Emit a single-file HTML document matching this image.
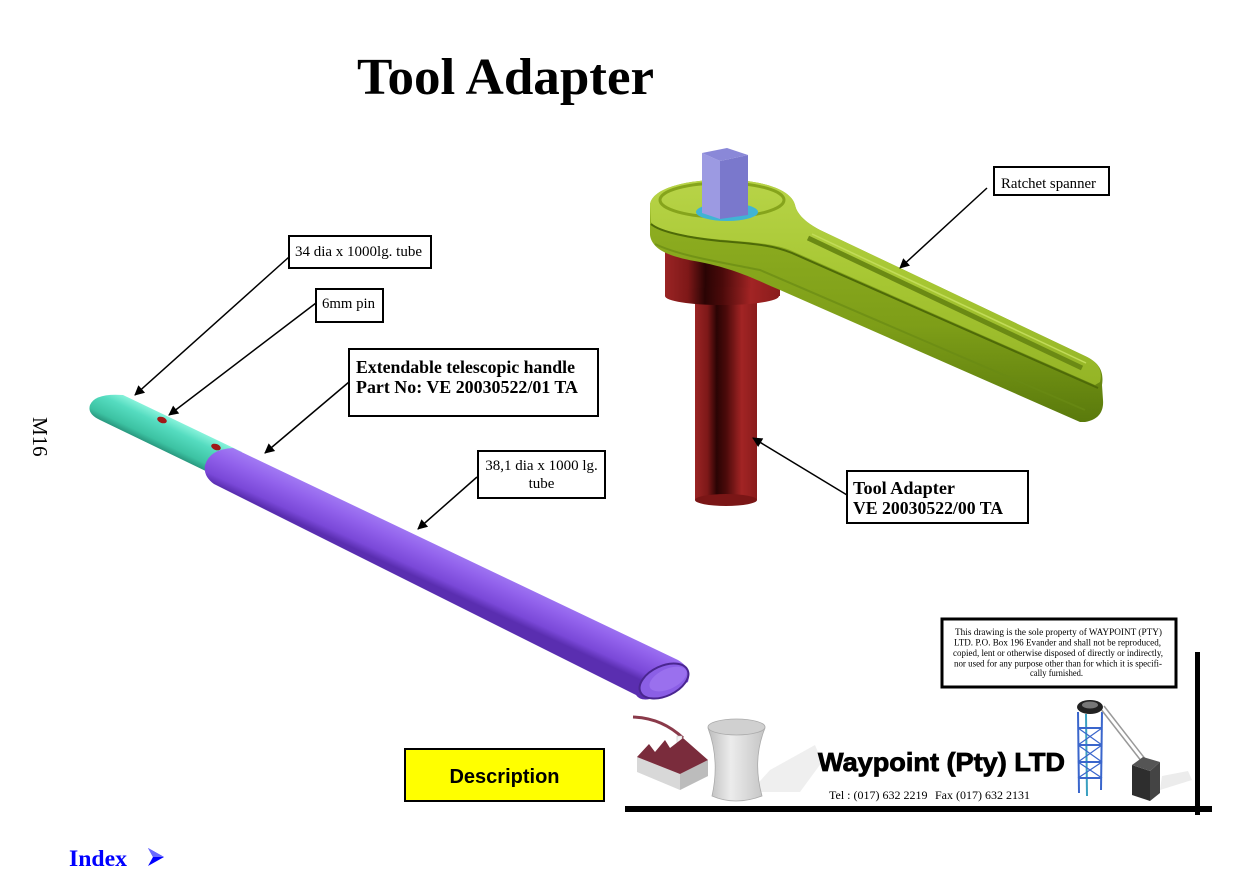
<!DOCTYPE html>
<html><head><meta charset="utf-8"><style>
html,body{margin:0;padding:0;background:#fff;}
svg{display:block;}
</style></head><body>
<svg width="1257" height="888" viewBox="0 0 1257 888" xmlns="http://www.w3.org/2000/svg">
<defs>
<marker id="ah" viewBox="0 0 10 10" refX="9" refY="5" markerWidth="12" markerHeight="10" markerUnits="userSpaceOnUse" orient="auto">
<path d="M0,0 L10,5 L0,10 Z" fill="#000"/>
</marker>
<linearGradient id="gTeal" gradientUnits="userSpaceOnUse" x1="123" y1="395" x2="109" y2="424">
<stop offset="0" stop-color="#86f2da"/><stop offset="0.3" stop-color="#55dcc0"/><stop offset="0.8" stop-color="#3cc2a2"/><stop offset="1" stop-color="#2a9a80"/>
</linearGradient>
<linearGradient id="gPurp" gradientUnits="userSpaceOnUse" x1="233" y1="448" x2="216" y2="485">
<stop offset="0" stop-color="#a27af4"/><stop offset="0.35" stop-color="#9262ec"/><stop offset="0.8" stop-color="#7a48d8"/><stop offset="1" stop-color="#5a2eb0"/>
</linearGradient>
<linearGradient id="gRed" x1="0" y1="0" x2="1" y2="0">
<stop offset="0" stop-color="#9a2424"/><stop offset="0.2" stop-color="#7e1818"/><stop offset="0.35" stop-color="#2a0404"/><stop offset="0.5" stop-color="#4a0a0a"/><stop offset="0.75" stop-color="#a22424"/><stop offset="1" stop-color="#8a1c1c"/>
</linearGradient>
<linearGradient id="gGreenLow" x1="0" y1="0" x2="0" y2="1">
<stop offset="0" stop-color="#94b424"/><stop offset="0.6" stop-color="#7e9e18"/><stop offset="1" stop-color="#5a7a0c"/>
</linearGradient>
<linearGradient id="gGreenTop" x1="0" y1="0" x2="0" y2="1">
<stop offset="0" stop-color="#b8d448"/><stop offset="0.5" stop-color="#a6c632"/><stop offset="1" stop-color="#94b426"/>
</linearGradient>
<linearGradient id="gTower" x1="0" y1="0" x2="1" y2="0">
<stop offset="0" stop-color="#bdbdbd"/><stop offset="0.4" stop-color="#ececec"/><stop offset="1" stop-color="#c4c4c4"/>
</linearGradient>
</defs>

<!-- Title -->
<text x="357" y="94" font-family="Liberation Serif, serif" font-weight="bold" font-size="52" textLength="297" lengthAdjust="spacingAndGlyphs">Tool Adapter</text>

<!-- M16 rotated -->
<text transform="translate(33,417) rotate(90)" font-family="Liberation Serif, serif" font-size="21" x="0" y="0">M16</text>

<!-- ===== Tube ===== -->
<path d="M123,395 L242,452 L216,476 L100,420 Q87,414 90,405 Q95,393 123,395 Z" fill="url(#gTeal)"/>
<ellipse cx="162" cy="420" rx="5" ry="3" fill="#a01818" transform="rotate(20 162 420)"/>
<ellipse cx="216" cy="447" rx="5" ry="3" fill="#a01818" transform="rotate(20 216 447)"/>
<path d="M233,448 L678,660 Q692,668 688,682 L650,699 Q640,701 636,695 L214,484 Q203,476 205,465 Q210,449 233,448 Z" fill="url(#gPurp)"/>
<ellipse cx="664" cy="681" rx="26" ry="15" transform="rotate(-25 664 681)" fill="#8b5fe6" stroke="#4a2690" stroke-width="2"/>
<ellipse cx="668" cy="679" rx="20" ry="10" transform="rotate(-25 668 679)" fill="#9a70ee"/>

<!-- ===== Tool adapter (red) ===== -->
<rect x="695" y="290" width="62" height="210" fill="url(#gRed)"/>
<ellipse cx="726" cy="500" rx="31" ry="6" fill="#7a1616"/>
<rect x="665" y="245" width="115" height="51" fill="url(#gRed)"/>
<ellipse cx="722" cy="296" rx="57" ry="9" fill="url(#gRed)"/>

<!-- ===== Spanner ===== -->
<path d="M650,205 C652,185 700,178 735,180 C770,182 792,192 795,205 C797,214 805,222 820,230 L1085,356 C1100,363 1104,372 1102,385 L1103,400 C1104,412 1098,420 1085,422 L1080,422 L780,290 C760,282 740,270 700,262 C670,257 652,250 650,235 Z" fill="url(#gGreenLow)"/>
<path d="M650,205 C652,185 700,178 735,180 C770,182 792,192 795,205 C797,214 805,222 820,230 L1085,356 C1098,362 1103,370 1100,382 L1095,385 L790,250 C770,242 740,242 705,238 C675,234 655,230 651,222 Z" fill="url(#gGreenTop)"/>
<path d="M651,224 C660,232 690,238 720,241 C760,244 775,246 792,253 L1098,388" fill="none" stroke="#4e6a08" stroke-width="2"/>
<path d="M655,244 C680,256 720,262 760,270 L1085,410" fill="none" stroke="#6a8a14" stroke-width="2" opacity="0.7"/>
<ellipse cx="722" cy="200" rx="62" ry="17" fill="none" stroke="#86a41c" stroke-width="3"/>
<path d="M808,238 L1082,368" stroke="#6b8a14" stroke-width="5" fill="none"/>
<path d="M812,234 L1086,363" stroke="#c2dc58" stroke-width="1.5" fill="none"/>

<!-- washer and post -->
<ellipse cx="727" cy="212" rx="31" ry="9" fill="#40b4d4"/>
<polygon points="702,153 720,161 720,219 702,213" fill="#9c9ae2"/>
<polygon points="720,161 748,155 748,215 720,219" fill="#7a78cc"/>
<polygon points="702,153 727,148 748,155 720,161" fill="#8a88d8"/>

<!-- ===== Callouts ===== -->
<g font-family="Liberation Serif, serif" fill="#000">
<rect x="289" y="236" width="142" height="32" fill="#fff" stroke="#000" stroke-width="2"/>
<text x="295" y="256" font-size="15" textLength="127" lengthAdjust="spacingAndGlyphs">34 dia x 1000lg. tube</text>
<line x1="289" y1="257" x2="135" y2="395" stroke="#000" stroke-width="1.5" marker-end="url(#ah)"/>

<rect x="316" y="289" width="67" height="33" fill="#fff" stroke="#000" stroke-width="2"/>
<text x="322" y="308" font-size="15" textLength="53" lengthAdjust="spacingAndGlyphs">6mm pin</text>
<line x1="316" y1="303" x2="169" y2="415" stroke="#000" stroke-width="1.5" marker-end="url(#ah)"/>

<rect x="349" y="349" width="249" height="67" fill="#fff" stroke="#000" stroke-width="2"/>
<text x="356" y="373" font-size="18" font-weight="bold" textLength="219" lengthAdjust="spacingAndGlyphs">Extendable telescopic handle</text>
<text x="356" y="393" font-size="18" font-weight="bold" textLength="222" lengthAdjust="spacingAndGlyphs">Part No: VE 20030522/01 TA</text>
<line x1="349" y1="382" x2="265" y2="453" stroke="#000" stroke-width="1.5" marker-end="url(#ah)"/>

<rect x="478" y="451" width="127" height="47" fill="#fff" stroke="#000" stroke-width="2"/>
<text x="541.5" y="470" font-size="15" text-anchor="middle">38,1 dia x 1000 lg.</text>
<text x="541.5" y="488" font-size="15" text-anchor="middle">tube</text>
<line x1="477" y1="477" x2="418" y2="529" stroke="#000" stroke-width="1.5" marker-end="url(#ah)"/>

<rect x="994" y="167" width="115" height="28" fill="#fff" stroke="#000" stroke-width="2"/>
<text x="1001" y="188" font-size="15" textLength="95" lengthAdjust="spacingAndGlyphs">Ratchet spanner</text>
<line x1="987" y1="188" x2="900" y2="268" stroke="#000" stroke-width="1.5" marker-end="url(#ah)"/>

<rect x="847" y="471" width="181" height="52" fill="#fff" stroke="#000" stroke-width="2"/>
<text x="853" y="494" font-size="18" font-weight="bold" textLength="102" lengthAdjust="spacingAndGlyphs">Tool Adapter</text>
<text x="853" y="514" font-size="18" font-weight="bold" textLength="150" lengthAdjust="spacingAndGlyphs">VE 20030522/00 TA</text>
<line x1="847" y1="495" x2="753" y2="438" stroke="#000" stroke-width="1.5" marker-end="url(#ah)"/>
</g>

<!-- ===== Disclaimer ===== -->
<rect x="942" y="619" width="234" height="68" fill="#fff" stroke="#000" stroke-width="3"/>
<g font-family="Liberation Serif, serif" font-size="9.5" fill="#000">
<text x="955" y="635" textLength="207" lengthAdjust="spacingAndGlyphs">This  drawing is the sole property of WAYPOINT (PTY)</text>
<text x="954" y="645.5" textLength="207" lengthAdjust="spacingAndGlyphs">LTD. P.O. Box 196 Evander and shall not be reproduced,</text>
<text x="953" y="656" textLength="210" lengthAdjust="spacingAndGlyphs">copied, lent or otherwise disposed of directly or indirectly,</text>
<text x="954" y="666.5" textLength="208" lengthAdjust="spacingAndGlyphs">nor used for any purpose other than for which it is specifi-</text>
<text x="1030" y="676" textLength="53" lengthAdjust="spacingAndGlyphs">cally furnished.</text>
</g>

<!-- ===== Logo area ===== -->
<polygon points="750,792 770,770 815,745 822,762 800,792" fill="#efefef"/>
<!-- factory -->
<path d="M633,717 Q662,718 683,738" fill="none" stroke="#8a3a4a" stroke-width="3"/>
<rect x="677" y="736" width="5" height="26" fill="#f4f4f4" stroke="#bbb" stroke-width="0.5"/>
<polygon points="637,757 680,774 708,760 708,776 680,790 637,772" fill="#d8d8d8"/>
<polygon points="680,774 708,760 708,776 680,790" fill="#bcbcbc"/>
<polygon points="637,757 649,744 655,752 665,740 670,748 683,738 708,760 680,774" fill="#7a2c3c"/>
<!-- cooling tower -->
<path d="M708,728 Q720,760 712,796 Q735,806 762,796 Q752,760 765,728 Z" fill="url(#gTower)" stroke="#aaa" stroke-width="0.8"/>
<ellipse cx="736.5" cy="727" rx="28.5" ry="8" fill="#d0d0d0" stroke="#aaa" stroke-width="0.8"/>
<!-- headframe -->
<g stroke="#3a66cc" stroke-width="2" fill="none">
<line x1="1078" y1="712" x2="1079" y2="793"/>
<line x1="1102" y1="712" x2="1101" y2="790"/>
<line x1="1086" y1="714" x2="1087" y2="796" stroke="#3aa0c0"/>
<line x1="1078" y1="728" x2="1102" y2="728"/>
<line x1="1078" y1="745" x2="1102" y2="745"/>
<line x1="1078" y1="762" x2="1102" y2="762"/>
<line x1="1078" y1="778" x2="1102" y2="778"/>
<line x1="1078" y1="728" x2="1102" y2="745" stroke-width="1.2"/>
<line x1="1102" y1="728" x2="1078" y2="745" stroke-width="1.2"/>
<line x1="1078" y1="745" x2="1102" y2="762" stroke-width="1.2"/>
<line x1="1102" y1="745" x2="1078" y2="762" stroke-width="1.2"/>
<line x1="1078" y1="762" x2="1102" y2="778" stroke-width="1.2"/>
<line x1="1102" y1="762" x2="1078" y2="778" stroke-width="1.2"/>
</g>
<line x1="1100" y1="708" x2="1142" y2="762" stroke="#999" stroke-width="1.5"/>
<line x1="1104" y1="706" x2="1146" y2="760" stroke="#999" stroke-width="1.5"/>
<ellipse cx="1090" cy="707" rx="13" ry="7" fill="#222"/>
<ellipse cx="1090" cy="705" rx="8" ry="3.5" fill="#777"/>
<polygon points="1160,790 1192,780 1188,771 1162,776" fill="#ececec"/>
<polygon points="1132,765 1150,771 1150,801 1132,795" fill="#2e2e2e"/>
<polygon points="1150,771 1160,762 1160,793 1150,801" fill="#444"/>
<polygon points="1132,765 1143,757 1160,762 1150,771" fill="#555"/>

<text x="818" y="771" font-family="Liberation Sans, sans-serif" font-weight="bold" font-size="26" stroke="#000" stroke-width="0.8" textLength="247" lengthAdjust="spacingAndGlyphs">Waypoint (Pty) LTD</text>
<text x="829" y="799" font-family="Liberation Serif, serif" font-size="12">Tel : (017) 632 2219</text>
<text x="935" y="799" font-family="Liberation Serif, serif" font-size="12">Fax (017) 632 2131</text>

<rect x="1195" y="652" width="5" height="163" fill="#000"/>
<rect x="625" y="806" width="587" height="6" fill="#000"/>

<!-- Description -->
<rect x="405" y="749" width="199" height="52" fill="#ffff00" stroke="#000" stroke-width="2"/>
<text x="504.5" y="783" font-family="Liberation Sans, sans-serif" font-weight="bold" font-size="20" text-anchor="middle">Description</text>

<!-- Index -->
<text x="69" y="866" font-family="Liberation Serif, serif" font-weight="bold" font-size="23" fill="#0000ff" textLength="58" lengthAdjust="spacingAndGlyphs">Index</text>
<polygon points="148,848 164,857 148,866 153,857" fill="#0000ff"/>
<polygon points="148,848 164,857 153,857" fill="#6a6aff"/>
</svg>
</body></html>
